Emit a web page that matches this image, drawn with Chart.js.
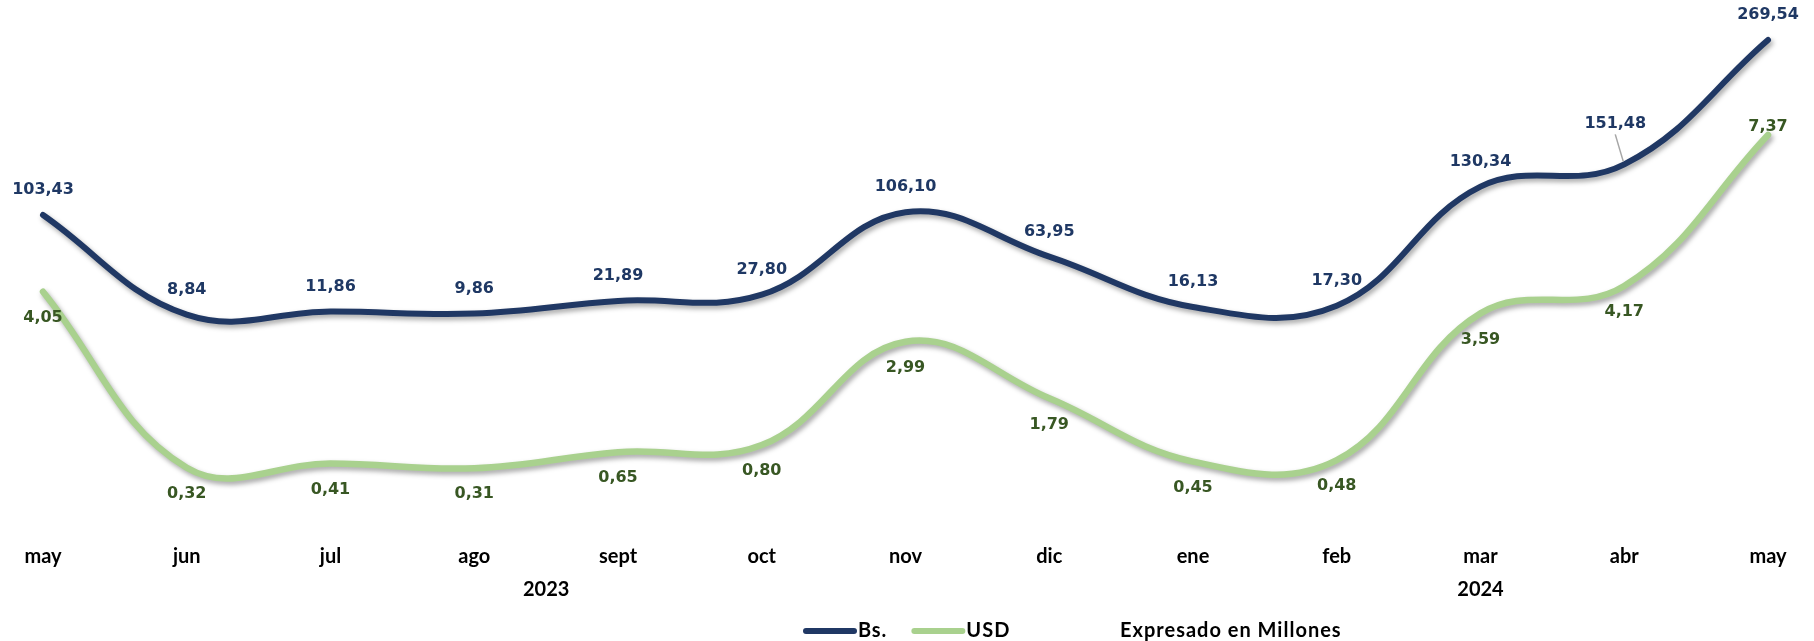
<!DOCTYPE html>
<html>
<head>
<meta charset="utf-8">
<script src="https://cdn.jsdelivr.net/npm/chart.js@4.4.1/dist/chart.umd.min.js"></script>
<style>
html,body{margin:0;padding:0;background:#ffffff;}
#wrap{width:1814px;height:641px;position:relative;}
</style>
</head>
<body>
<div id="wrap"><canvas id="c" width="1814" height="641"></canvas></div>
<script>
// ---- data ----
const months = ['may','jun','jul','ago','sept','oct','nov','dic','ene','feb','mar','abr','may'];
const years = ['2023','2023','2023','2023','2023','2023','2023','2023','2024','2024','2024','2024','2024'];
const bsValues = [103.43, 8.84, 11.86, 9.86, 21.89, 27.80, 106.10, 63.95, 16.13, 17.30, 130.34, 151.48, 269.54];
const usdValues = [4.05, 0.32, 0.41, 0.31, 0.65, 0.80, 2.99, 1.79, 0.45, 0.48, 3.59, 4.17, 7.37];
const seriesNames = ['Bs.', 'USD'];
const noteText = 'Expresado en Millones';

// ---- styles ----
const BS_COLOR = '#203864';
const BS_LABEL = '#1F3864';
const USD_COLOR = '#A9D18E';
const USD_LABEL = '#385723';
const AXIS_FONT = 'Lato, "Open Sans", sans-serif';
const LABEL_FONT = '"DejaVu Sans", Verdana, sans-serif';

const fmt = v => v.toFixed(2).replace('.', ',');

const shadowPlugin = {
  id: 'lineShadow',
  beforeDatasetDraw(chart) {
    const ctx = chart.ctx;
    ctx.save();
    ctx.shadowColor = 'rgba(0,0,0,0.35)';
    ctx.shadowBlur = 5;
    ctx.shadowOffsetX = 2;
    ctx.shadowOffsetY = 3;
  },
  afterDatasetDraw(chart) {
    chart.ctx.restore();
  }
};

const labelPlugin = {
  id: 'valueLabels',
  afterDatasetsDraw(chart) {
    const ctx = chart.ctx;
    ctx.save();
    ctx.font = 'bold 16px ' + LABEL_FONT;
    ctx.textAlign = 'center';
    ctx.textBaseline = 'middle';
    chart.data.datasets.forEach((ds, di) => {
      const meta = chart.getDatasetMeta(di);
      ctx.fillStyle = di === 0 ? BS_LABEL : USD_LABEL;
      meta.data.forEach((pt, i) => {
        let dx = 0, dy = di === 0 ? -25 : 26;
        if (di === 0 && i === 11) {
          dx = -9; dy = -41;
          ctx.save();
          ctx.strokeStyle = '#A6A6A6';
          ctx.lineWidth = 1.5;
          ctx.beginPath();
          ctx.moveTo(pt.x + dx, pt.y + dy + 11);
          ctx.lineTo(pt.x - 1, pt.y - 3);
          ctx.stroke();
          ctx.restore();
        }
        if (di === 1 && i === ds.data.length - 1) { dy = -8; }
        ctx.fillText(fmt(ds.data[i]), pt.x + dx, pt.y + dy);
      });
    });
    ctx.restore();
  },
  afterDraw(chart) {
    const ctx = chart.ctx;
    const xs = chart.scales.x;
    ctx.save();
    // year group labels
    ctx.font = 'bold 20px ' + AXIS_FONT;
    ctx.fillStyle = '#000000';
    ctx.textAlign = 'center';
    ctx.textBaseline = 'middle';
    let start = 0;
    for (let i = 1; i <= years.length; i++) {
      if (i === years.length || years[i] !== years[start]) {
        const x = (xs.getPixelForValue(start) + xs.getPixelForValue(i - 1)) / 2;
        ctx.fillText(years[start], x, 590);
        start = i;
      }
    }
    // legend
    const ly = 631;
    let x = 806;
    const colors = [BS_COLOR, USD_COLOR];
    ctx.textAlign = 'left';
    ctx.font = 'bold 20px ' + AXIS_FONT;
    ctx.letterSpacing = '1px';
    seriesNames.forEach((name, k) => {
      ctx.strokeStyle = colors[k];
      ctx.lineWidth = 6;
      ctx.lineCap = 'round';
      ctx.beginPath();
      ctx.moveTo(x, ly);
      ctx.lineTo(x + 48, ly);
      ctx.stroke();
      x += 52;
      ctx.fillStyle = '#000000';
      ctx.fillText(name, x, ly);
      x += ctx.measureText(name).width + 27;
    });
    ctx.fillText(noteText, 1120, ly);
    ctx.restore();
  }
};

new Chart(document.getElementById('c'), {
  type: 'line',
  data: {
    labels: months,
    datasets: [
      {
        label: seriesNames[0],
        data: bsValues,
        yAxisID: 'yBs',
        borderColor: BS_COLOR,
        borderWidth: 6,
        borderCapStyle: 'round',
        borderJoinStyle: 'round',
        pointRadius: 0,
        tension: 0.4,
        fill: false,
        clip: false
      },
      {
        label: seriesNames[1],
        data: usdValues,
        yAxisID: 'yUsd',
        borderColor: USD_COLOR,
        borderWidth: 6.5,
        borderCapStyle: 'round',
        borderJoinStyle: 'round',
        pointRadius: 0,
        tension: 0.4,
        fill: false,
        clip: false
      }
    ]
  },
  options: {
    responsive: false,
    animation: false,
    devicePixelRatio: 1,
    layout: { padding: { left: 43, right: 46, top: 30, bottom: 71 } },
    plugins: { legend: { display: false }, tooltip: { enabled: false } },
    scales: {
      x: {
        grid: { display: false, drawTicks: false },
        border: { display: false },
        offset: false,
        ticks: {
          color: '#000000',
          font: { family: AXIS_FONT, size: 20, weight: 'bold' },
          padding: 15,
          maxRotation: 0,
          autoSkip: false
        },
        afterFit(s) { s.height = 40; }
      },
      yBs: { display: false, min: -195.57, max: 279.03 },
      yUsd: { display: false, min: -0.999, max: 9.594 }
    }
  },
  plugins: [shadowPlugin, labelPlugin]
});
</script>
</body>
</html>
